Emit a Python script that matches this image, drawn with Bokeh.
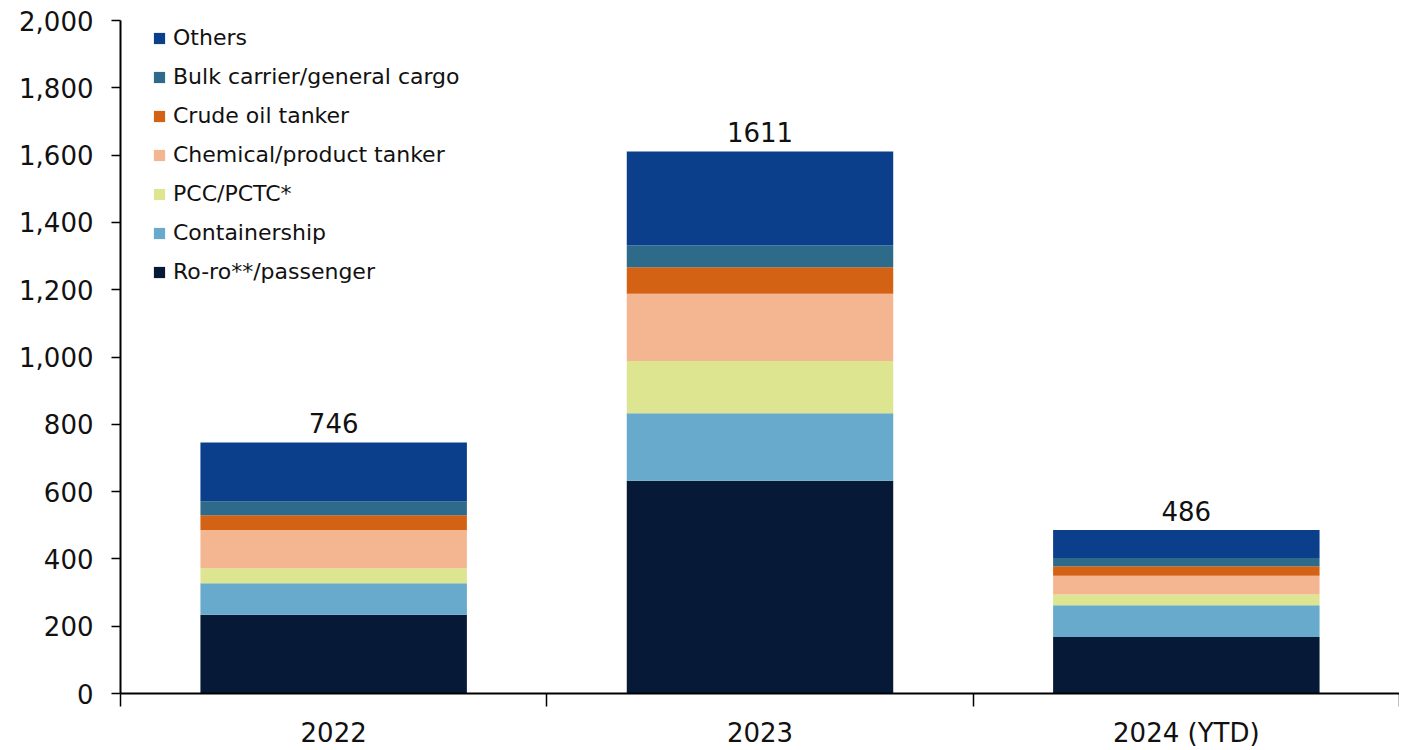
from bokeh.plotting import figure
from bokeh.models import ColumnDataSource, Range1d, FixedTicker, Legend, LegendItem, NumeralTickFormatter
from bokeh.embed import file_html
from bokeh.resources import INLINE
from bokeh.core.properties import value

categories = ["2022", "2023", "2024 (YTD)"]
series = ["Ro-ro**/passenger", "Containership", "PCC/PCTC*", "Chemical/product tanker",
          "Crude oil tanker", "Bulk carrier/general cargo", "Others"]
roro = [234, 632, 168]
container = [94, 201, 94]
pcc = [44, 155, 32]
chemical = [114, 200, 56]
crude = [44, 79, 28]
bulk = [41, 64, 25]
others = [175, 280, 83]
totals = [746, 1611, 486]
colors = ["#061A38", "#67AACB", "#DDE590", "#F3B690", "#D46214", "#2E6A8A", "#0B3F8C"]

FONT = "DejaVu Sans"
keys = ["roro", "container", "pcc", "chemical", "crude", "bulk", "others"]
xpos = [i + 0.5 for i in range(len(categories))]
src = ColumnDataSource(dict(x=xpos, roro=roro, container=container, pcc=pcc, chemical=chemical,
                            crude=crude, bulk=bulk, others=others,
                            total=totals, total_txt=[str(t) for t in totals]))

p = figure(width=1399, height=750, x_range=Range1d(0, len(categories)), y_range=Range1d(0, 2000),
           output_backend="svg", toolbar_location=None,
           min_border_left=120, min_border_top=20, min_border_right=0, min_border_bottom=40)
p.outline_line_color = None
p.xgrid.visible = False
p.ygrid.visible = False

renderers = p.vbar_stack(keys, x="x", width=0.625, source=src, color=colors, line_color=None)

p.text(x="x", y="total", text="total_txt", source=src, text_align="center", text_baseline="bottom",
       y_offset=-9, text_font=value(FONT), text_font_size="26px", text_color="#111111")

items = [LegendItem(label=series[i], renderers=[renderers[i]]) for i in reversed(range(len(series)))]
legend = Legend(items=items, location=(32, 409), margin=0, padding=0, spacing=14,
                label_height=25, glyph_height=14, glyph_width=14, label_standoff=7,
                label_text_font=FONT, label_text_font_size="22px", label_text_color="#111111",
                border_line_color=None, background_fill_alpha=0)
p.add_layout(legend, "center")

ya = p.yaxis[0]
ya.ticker = FixedTicker(ticks=list(range(0, 2001, 200)))
ya.formatter = NumeralTickFormatter(format="0,0")
ya.major_label_text_font = FONT
ya.major_label_text_font_size = "26px"
ya.major_label_text_color = "#111111"
ya.axis_line_color = "black"
ya.axis_line_width = 2
ya.major_tick_line_color = "black"
ya.major_tick_line_width = 1.5
ya.major_tick_out = 9
ya.major_tick_in = 0
ya.minor_tick_line_color = None
ya.major_label_standoff = 18

xa = p.xaxis[0]
xa.ticker = FixedTicker(ticks=xpos, minor_ticks=list(range(len(categories) + 1)))
xa.major_label_overrides = {x: c for x, c in zip(xpos, categories)}
xa.major_label_text_font = FONT
xa.major_label_text_font_size = "26px"
xa.major_label_text_color = "#111111"
xa.axis_line_color = "black"
xa.axis_line_width = 2
xa.major_tick_line_color = None
xa.major_tick_out = 0
xa.major_tick_in = 0
xa.minor_tick_line_color = "black"
xa.minor_tick_line_width = 1.5
xa.minor_tick_out = 13
xa.minor_tick_in = 0
xa.major_label_standoff = 11

open("out.html", "w").write(file_html(p, INLINE))
